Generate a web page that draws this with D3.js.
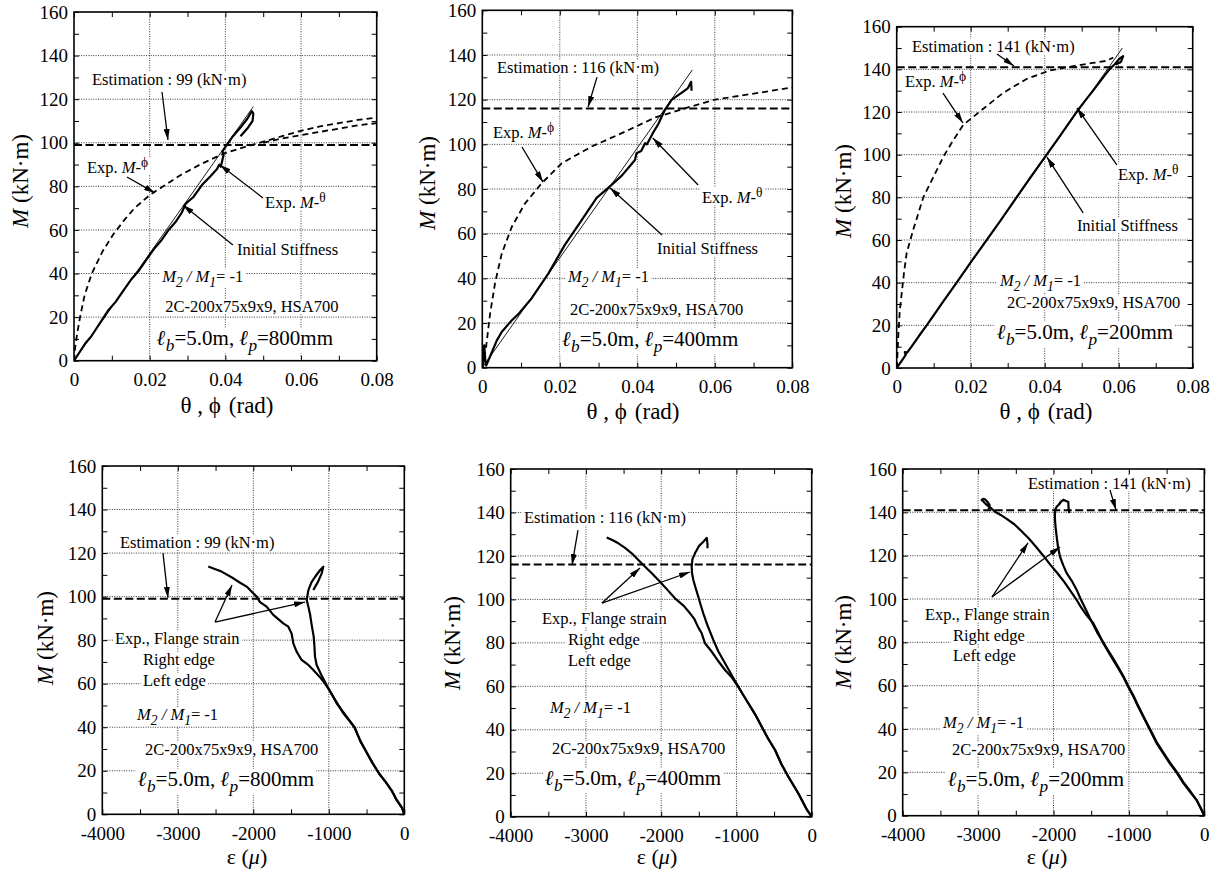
<!DOCTYPE html>
<html><head><meta charset="utf-8">
<script src="https://cdn.jsdelivr.net/npm/d3@7"></script>
<style>
body{margin:0;background:#fff}
svg{display:block}
</style>
</head><body>
<svg id="c" width="1221" height="874"></svg>
<script>
// ---------------- DATA ----------------
const yTicks = [0,20,40,60,80,100,120,140,160];
const xTicksRot = [0,0.02,0.04,0.06,0.08];
const xTickLabelsRot = ["0","0.02","0.04","0.06","0.08"];
const xTicksStrain = [-4000,-3000,-2000,-1000,0];
const xTickLabelsStrain = ["-4000","-3000","-2000","-1000","0"];
const estimations = [99,116,141];
const plasticLengths = ["800","400","200"];

// M-theta (solid), M-phi (dashed), initial stiffness (thin) -- lp = 800 mm
const theta800 = [[0,0],[0.0015,4],[0.003,8],[0.0045,11],[0.006,15],[0.0075,19],[0.009,23],[0.011,27],[0.013,32],[0.015,37],[0.017,41],[0.019,46],[0.021,51],[0.023,55],[0.025,60],[0.027,64],[0.0285,68],[0.0295,72],[0.0315,75],[0.034,81],[0.036,84.5],[0.0378,88],[0.0384,90],[0.0388,89],[0.0392,92],[0.0396,95],[0.0392,96],[0.0404,99],[0.042,103],[0.044,107],[0.0458,111],[0.047,114.5],[0.0474,113.5],[0.0472,110],[0.0458,106.5],[0.044,103]];
const phi800a = [[0,0],[0.0003,6],[0.0008,12],[0.0016,20],[0.0028,30],[0.0047,40],[0.0075,50],[0.0104,58],[0.0135,65],[0.016,70],[0.020,76],[0.024,80.5],[0.028,85],[0.0333,90],[0.0395,95],[0.045,98],[0.050,100.5],[0.055,103],[0.060,105.5],[0.065,107.5],[0.070,109],[0.075,110.5],[0.080,111.5]];
const phi800b = [[0.050,100],[0.055,102],[0.060,103.5],[0.065,105],[0.070,106.5],[0.075,108],[0.080,109]];
const init800 = [[0,0],[0.0474,116.6]];

// lp = 400 mm
const theta400 = [[0,0],[0.0003,4],[0.0005,10],[0.0008,3],[0.001,1],[0.002,5],[0.0037,12],[0.005,16],[0.0075,21],[0.0093,24],[0.0127,31],[0.017,42],[0.0213,55],[0.0256,66],[0.0295,76],[0.0325,80.5],[0.036,86],[0.0394,93],[0.0398,96],[0.041,97],[0.042,100.5],[0.0425,100],[0.044,105],[0.0454,109],[0.047,115],[0.0489,120],[0.0514,123],[0.053,125],[0.0539,128],[0.054,124]];
const phi400 = [[0,0],[0.0005,5],[0.0011,11],[0.002,24],[0.0033,38],[0.005,51],[0.0076,63],[0.011,73.5],[0.0153,82.5],[0.0205,91.5],[0.0282,99],[0.036,105],[0.0446,112],[0.054,117],[0.060,120],[0.0712,123],[0.080,125.5]];
const init400 = [[0,0],[0.0542,133.3]];

// lp = 200 mm
const theta200 = [[0,0],[0.0012,3],[0.0024,6],[0.0022,7.5],[0.0028,7.2],[0.004,10],[0.006,15],[0.0081,20],[0.0105,26],[0.0125,31],[0.0162,40],[0.020,49.5],[0.0243,60],[0.028,69],[0.0324,80],[0.036,89],[0.0401,99],[0.044,108.5],[0.0486,120],[0.051,125.5],[0.0535,131],[0.0559,136.5],[0.0575,140],[0.059,142.5],[0.0602,145],[0.0612,146.2],[0.0606,143.5],[0.0592,142.3]];
const phi200 = [[0,0],[0.0002,6],[0.00045,16],[0.0008,26],[0.00135,35],[0.002,45],[0.0027,54],[0.0045,65],[0.0072,80],[0.0099,89.5],[0.0126,99],[0.015,106],[0.018,114],[0.0234,121.5],[0.0288,129],[0.0351,135.5],[0.0414,139.5],[0.0477,141.5],[0.053,143],[0.0567,144],[0.0585,145.5]];
const init200 = [[0,0],[0.0610,150]];

// flange strain (two edges) -- lp = 800 mm
const strain800A = [[0,0],[-30,3],[-102,6.6],[-160,10.5],[-250,15],[-330,18.5],[-420,23.5],[-500,28.5],[-580,33.5],[-660,40],[-740,43.5],[-808,46.4],[-880,50.5],[-940,54],[-1000,57.5],[-1051,60],[-1117,63],[-1205,66.3],[-1271,68.6],[-1360,70.9],[-1426,74.7],[-1470,78.5],[-1492,83],[-1536,86.2],[-1603,87.7],[-1735,91.6],[-1824,95.4],[-1911,97.5],[-1956,100],[-2088,104.6],[-2180,106.5],[-2265,108.4],[-2420,111.5],[-2520,112.8],[-2596,113.8]];
const strain800B = [[0,0],[-30,3],[-102,6.6],[-160,10.5],[-250,15],[-330,18.5],[-420,23.5],[-500,28.5],[-580,33.5],[-660,40],[-764,44.9],[-896,51],[-1007,57.9],[-1095,63.8],[-1161,68.6],[-1183,72.5],[-1190,77],[-1200,81.6],[-1227,87],[-1249,92],[-1271,95.4],[-1293,98.5],[-1270,103],[-1230,106.5],[-1183,109],[-1120,112],[-1073,113.7],[-1094,110.7],[-1140,107],[-1205,103]];

// lp = 400 mm
const strain400A = [[0,0],[-60,3],[-177,10.7],[-310,18.4],[-400,24],[-487,30.7],[-580,36],[-664,41.4],[-750,47],[-842,52.2],[-910,56],[-975,59.8],[-1060,64],[-1152,67.5],[-1250,72],[-1330,76],[-1418,79.8],[-1462,84.4],[-1506,87],[-1560,91],[-1617,93.6],[-1700,97],[-1817,100.5],[-1920,104.5],[-2016,108.1],[-2125,112],[-2214,115],[-2300,118],[-2392,121.2],[-2480,123.7],[-2569,125.8],[-2650,127.3],[-2724,128.5]];
const strain400B = [[0,0],[-60,3],[-177,10.7],[-310,18.4],[-400,24],[-487,30.7],[-580,36],[-664,41.4],[-750,47],[-842,52.2],[-910,56],[-975,59.8],[-1060,65],[-1150,70.5],[-1240,76],[-1307,81.3],[-1390,88.5],[-1441,93.6],[-1480,98],[-1507,101.2],[-1545,105.5],[-1573,108.9],[-1590,112],[-1595,115],[-1585,118.5],[-1551,121.2],[-1500,124.5],[-1440,126.5],[-1395,128.3],[-1385,125.5],[-1385,123.5]];

// lp = 200 mm
const strain200A = [[0,0],[-40,3],[-102,7.2],[-190,11],[-278,15],[-360,19.5],[-455,24],[-540,28.5],[-632,33.4],[-720,39.5],[-809,45.7],[-880,50.5],[-941,55],[-1010,59.5],[-1074,64],[-1140,68],[-1207,71.8],[-1270,75.5],[-1339,79.5],[-1400,84],[-1472,88.8],[-1560,92.5],[-1640,96.5],[-1700,100],[-1780,104],[-1860,108],[-1950,112],[-2046,116],[-2135,120],[-2230,124],[-2330,128],[-2430,131.5],[-2520,134.5],[-2621,137],[-2700,138.8],[-2776,140.3],[-2830,142],[-2886,143.4],[-2930,145],[-2953,145.7],[-2935,146.2],[-2909,146],[-2880,145],[-2850,143.5],[-2843,142],[-2870,141.5]];
const strain200B = [[0,0],[-40,3],[-102,7.2],[-190,11.5],[-278,15.5],[-360,20],[-455,24.5],[-540,29],[-632,34],[-720,40],[-809,46],[-880,51],[-941,55.5],[-1010,60],[-1074,64.5],[-1140,68.5],[-1207,72.5],[-1270,76],[-1339,80],[-1420,84.5],[-1500,90],[-1570,95],[-1640,100],[-1692,104.2],[-1760,108.5],[-1825,111.9],[-1870,115.5],[-1914,119.5],[-1940,124],[-1958,128.8],[-1972,133],[-1980,136.5],[-1982,139.6],[-1975,141.5],[-1958,142.6],[-1930,143.5],[-1900,145],[-1870,145.8],[-1840,145.3],[-1815,145],[-1804,144.9],[-1800,142],[-1790,139.6]];

// ---------------- LAYOUT ----------------
const panels = [
 {kind:'rot', l:74, t:12, w:302.7, h:348.7, est:0, lp:0,
  theta:theta800, phis:[phi800a,phi800b], init:init800,
  yTitle:[28,181], xTitle:[227,413],
  ann:{est:[0.00476,126.5], estA:[[0.02326,123.3],[0.02484,101.3]],
       phi:[0.00344,86.1], phiA:[[0.0140,84.3],[0.0214,77.0]],
       th:[0.0505,70.1], thA:[[0.04995,74.7],[0.0386,89.8]],
       ini:[0.0431,48.5], iniA:[[0.0420,53.1],[0.0288,71.4]],
       ratio:[0.0233,36.2], sec:[0.0241,22.3], len:[0.0219,7.2]}},
 {kind:'rot', l:482.3, t:10.3, w:310, h:357.4, est:1, lp:1,
  theta:theta400, phis:[phi400], init:init400,
  yTitle:[435,183], xTitle:[633,419],
  ann:{est:[0.0038,131.9], estA:[[0.0296,130.1],[0.0273,116.7]],
       phi:[0.00276,102.8], phiA:[[0.01024,98.8],[0.01566,83.1]],
       th:[0.0567,73.7], thA:[[0.0557,81.8],[0.0440,102.8]],
       ini:[0.0451,50.9], iniA:[[0.0464,59.4],[0.0330,80.4]],
       ratio:[0.0221,38.4], sec:[0.0226,23.6], len:[0.0206,9.7]}},
 {kind:'rot', l:896.7, t:26.7, w:296, h:341.3, est:2, lp:2,
  theta:theta200, phis:[phi200], init:init200,
  yTitle:[851,191], xTitle:[1046,419],
  ann:{est:[0.00414,148.1], estA:[[0.0271,147.2],[0.0317,141.6]],
       phi:[0.00224,131.7], phiA:[[0.0125,128.9],[0.0179,114.9]],
       th:[0.0598,88.1], thA:[[0.0595,95.2],[0.0487,121.9]],
       ini:[0.0487,64.2], iniA:[[0.0504,72.7],[0.0406,98.9]],
       ratio:[0.0279,38.6], sec:[0.0298,28.0], len:[0.0271,13.8]}},
 {kind:'strain', l:102.3, t:466, w:302, h:348.3, est:0, lp:0,
  curves:[strain800A,strain800B],
  yTitle:[53,638], xTitle:[247,862],
  ann:{est:[-3766,122.3], estA:[[-3196,120.0],[-3130,99.4]],
       fl:[[-3832,78.2],[-3461,68.6],[-3461,58.9]],
       flA:[[-2507,88.3],[-2282,105.3],[-1315,97.5]],
       ratio:[-3540,43.3], sec:[-3434,27.3], len:[-3527,13.0]}},
 {kind:'strain', l:510.7, t:469, w:301, h:347.7, est:1, lp:1,
  curves:[strain400A,strain400B],
  yTitle:[460,643], xTitle:[657,862],
  ann:{est:[-3823,135.2], estA:[[-3106,131.9],[-3185,115.8]],
       fl:[[-3584,88.7],[-3239,79.0],[-3239,69.3]],
       flA:[[-2787,98.3],[-2282,114.4],[-1617,112.6]],
       ratio:[-3478,47.7], sec:[-3451,28.9], len:[-3544,14.6]}},
 {kind:'strain', l:902.7, t:469, w:301.6, h:346.7, est:2, lp:2,
  curves:[strain200A,strain200B],
  yTitle:[851,642], xTitle:[1047,862],
  ann:{est:[-2338,150.8], estA:[[-1251,150.3],[-1171,141.1]],
       fl:[[-3704,90.3],[-3333,80.6],[-3333,71.4]],
       flA:[[-2816,100.9],[-2338,125.9],[-1914,124.0]],
       ratio:[-3465,40.5], sec:[-3346,28.0], len:[-3399,13.7]}}
];

const FONT = '"Liberation Serif", "Times New Roman", Tinos, serif';

// ---------------- DRAW ----------------
const svg = d3.select('#c').style('font-family', FONT);
const defs = svg.append('defs');
defs.append('marker').attr('id','ah').attr('viewBox','0 0 11 6')
  .attr('refX',11).attr('refY',3).attr('markerWidth',11).attr('markerHeight',6)
  .attr('markerUnits','userSpaceOnUse').attr('orient','auto')
  .append('path').attr('d','M0,0L11,3L0,6Z').attr('fill','#000');

const TICKF = 19, ANNF = 16.5;

function rich(gp, px, py, parts, fs, bg){
  const t = gp.append('text').attr('x',px).attr('y',py).attr('font-size',fs).attr('font-family',FONT).attr('fill','#000');
  let shift = 0;
  parts.forEach(p=>{
    const ts = t.append('tspan').text(p.t);
    const target = p.sub ? fs*0.3 : p.sup ? -fs*0.38 : 0;
    if (Math.abs(target-shift)>1e-6){ ts.attr('dy', target-shift); shift = target; }
    if (p.sub||p.sup) ts.attr('font-size', fs*0.82);
    if (p.i) ts.attr('font-style','italic');
    if (p.b) ts.attr('font-weight','bold');
  });
  if (bg){
    const bb = t.node().getBBox();
    gp.insert('rect', ()=>t.node()).attr('x',bb.x-2).attr('y',bb.y+2)
      .attr('width',bb.width+4).attr('height',bb.height-4).attr('fill','#fff');
  }
  return t;
}

function label(lbls, vals, d){
  for (let i=0;i<vals.length;i++){ if (Math.abs(vals[i]-d) < 1e-9) return lbls[i]; }
  return '';
}

panels.forEach((P,pi)=>{
  const g = svg.append('g');
  const isRot = P.kind==='rot';
  const xMaj = isRot ? xTicksRot : xTicksStrain;
  const xLbl = isRot ? xTickLabelsRot : xTickLabelsStrain;
  const x = d3.scaleLinear().domain([xMaj[0], xMaj[xMaj.length-1]]).range([P.l, P.l+P.w]);
  const y = d3.scaleLinear().domain([yTicks[0], yTicks[yTicks.length-1]]).range([P.t+P.h, P.t]);
  const xMinor = d3.ticks(x.domain()[0], x.domain()[1], 8);
  const yMinor = d3.ticks(0, 160, 16);

  const clipId = 'clip'+pi;
  defs.append('clipPath').attr('id',clipId).append('rect')
    .attr('x',P.l).attr('y',P.t).attr('width',P.w).attr('height',P.h);

  // grid
  const grid = g.append('g').attr('stroke','#3a3a3a').attr('stroke-width',1).attr('stroke-dasharray','1,1.4');
  grid.selectAll('.gx').data(xMaj.slice(1,-1)).join('line')
    .attr('x1',d=>x(d)).attr('x2',d=>x(d)).attr('y1',P.t).attr('y2',P.t+P.h);
  grid.selectAll('.gy').data(yTicks.slice(1,-1)).join('line')
    .attr('x1',P.l).attr('x2',P.l+P.w).attr('y1',d=>y(d)).attr('y2',d=>y(d));

  // axes (inward ticks)
  const fmtX = d=>label(xLbl,xMaj,d);
  const fmtY = d=>label(yTicks.map(String),yTicks,d);
  const ax = [
    g.append('g').attr('transform',`translate(0,${P.t+P.h})`).call(d3.axisBottom(x).tickValues(xMinor).tickSize(-5).tickPadding(12).tickFormat(fmtX)),
    g.append('g').attr('transform',`translate(0,${P.t})`).call(d3.axisTop(x).tickValues(xMinor).tickSize(-5).tickFormat('')),
    g.append('g').attr('transform',`translate(${P.l},0)`).call(d3.axisLeft(y).tickValues(yMinor).tickSize(-5).tickPadding(6).tickFormat(fmtY)),
    g.append('g').attr('transform',`translate(${P.l+P.w},0)`).call(d3.axisRight(y).tickValues(yMinor).tickSize(-5).tickFormat(''))
  ];
  ax.forEach(a=>{
    a.attr('font-family',FONT).attr('font-size',TICKF);
    a.select('.domain').remove();
    a.selectAll('line').attr('stroke','#000').attr('stroke-width',1);
    a.selectAll('text').attr('fill','#000');
  });

  // annotation texts
  const A = P.ann;
  const at = g.append('g');
  const est = estimations[P.est];
  rich(at, x(A.est[0]), y(A.est[1]), [{t:`Estimation : ${est} (kN·m)`}], ANNF, true);
  if (isRot){
    rich(at, x(A.phi[0]), y(A.phi[1]), [{t:'Exp. '},{t:'M',i:true},{t:'-'},{t:'ϕ',sup:true}], ANNF, true);
    rich(at, x(A.th[0]), y(A.th[1]), [{t:'Exp. '},{t:'M',i:true},{t:'-'},{t:'θ',sup:true}], ANNF, true);
    rich(at, x(A.ini[0]), y(A.ini[1]), [{t:'Initial Stiffness'}], ANNF, true);
  } else {
    rich(at, x(A.fl[0][0]), y(A.fl[0][1]), [{t:'Exp., Flange strain'}], ANNF, true);
    rich(at, x(A.fl[1][0]), y(A.fl[1][1]), [{t:'Right edge'}], ANNF, true);
    rich(at, x(A.fl[2][0]), y(A.fl[2][1]), [{t:'Left edge'}], ANNF, true);
  }
  rich(at, x(A.ratio[0]), y(A.ratio[1]), [{t:'M',i:true},{t:'2',i:true,sub:true},{t:' / ',i:true},{t:'M',i:true},{t:'1',i:true,sub:true},{t:'= -1'}], ANNF, true);
  rich(at, x(A.sec[0]), y(A.sec[1]), [{t:'2C-200x75x9x9, HSA700'}], ANNF, true);
  rich(at, x(A.len[0]), y(A.len[1]), [{t:'ℓ',b:true,i:true},{t:'b',i:true,sub:true},{t:'=5.0m, '},{t:'ℓ',b:true,i:true},{t:'p',i:true,sub:true},{t:`=${plasticLengths[P.lp]}mm`}], 21, true);

  // data layer
  const dl = g.append('g').attr('clip-path',`url(#${clipId})`);
  const line = d3.line().x(d=>x(d[0])).y(d=>y(d[1]));
  dl.append('line').attr('x1',P.l).attr('x2',P.l+P.w).attr('y1',y(est)).attr('y2',y(est))
    .attr('stroke','#000').attr('stroke-width',2).attr('stroke-dasharray','8,3.5');
  if (isRot){
    P.phis.forEach(s=>dl.append('path').attr('d',line(s)).attr('fill','none').attr('stroke','#000')
      .attr('stroke-width',1.8).attr('stroke-dasharray','6,4'));
    dl.append('path').attr('d',line(P.init)).attr('fill','none').attr('stroke','#000').attr('stroke-width',0.9);
    dl.append('path').attr('d',line(P.theta)).attr('fill','none').attr('stroke','#000')
      .attr('stroke-width',2.2).attr('stroke-linejoin','round');
  } else {
    P.curves.forEach(s=>dl.append('path').attr('d',line(s)).attr('fill','none').attr('stroke','#000')
      .attr('stroke-width',2.2).attr('stroke-linejoin','round'));
  }

  // arrows
  const arr = g.append('g').attr('stroke','#000').attr('stroke-width',1.3);
  const arrow = (a,b)=>arr.append('line').attr('x1',x(a[0])).attr('y1',y(a[1])).attr('x2',x(b[0])).attr('y2',y(b[1])).attr('marker-end','url(#ah)');
  arrow(A.estA[0],A.estA[1]);
  if (isRot){
    arrow(A.phiA[0],A.phiA[1]); arrow(A.thA[0],A.thA[1]); arrow(A.iniA[0],A.iniA[1]);
  } else {
    arrow(A.flA[0],A.flA[1]); arrow(A.flA[0],A.flA[2]);
  }

  // frame
  g.append('rect').attr('x',P.l).attr('y',P.t).attr('width',P.w).attr('height',P.h)
    .attr('fill','none').attr('stroke','#000').attr('stroke-width',1.6);

  // axis titles
  const yt = g.append('text').attr('font-size',23).attr('font-family',FONT).attr('text-anchor','middle')
    .attr('transform',`translate(${P.yTitle[0]},${P.yTitle[1]}) rotate(-90)`);
  yt.append('tspan').attr('font-style','italic').text('M');
  yt.append('tspan').text(' (kN·m)');
  const xt = g.append('text').attr('font-size',isRot?23:22).attr('font-family',FONT).attr('text-anchor','middle')
    .attr('x',P.xTitle[0]).attr('y',P.xTitle[1] + (isRot?0:2));
  if (isRot){
    xt.append('tspan').text('θ , ϕ');
    xt.append('tspan').attr('dx',8).text('(rad)');
  } else {
    xt.append('tspan').text('ε (');
    xt.append('tspan').attr('font-style','italic').text('μ');
    xt.append('tspan').text(')');
  }
});
</script>
</body></html>
